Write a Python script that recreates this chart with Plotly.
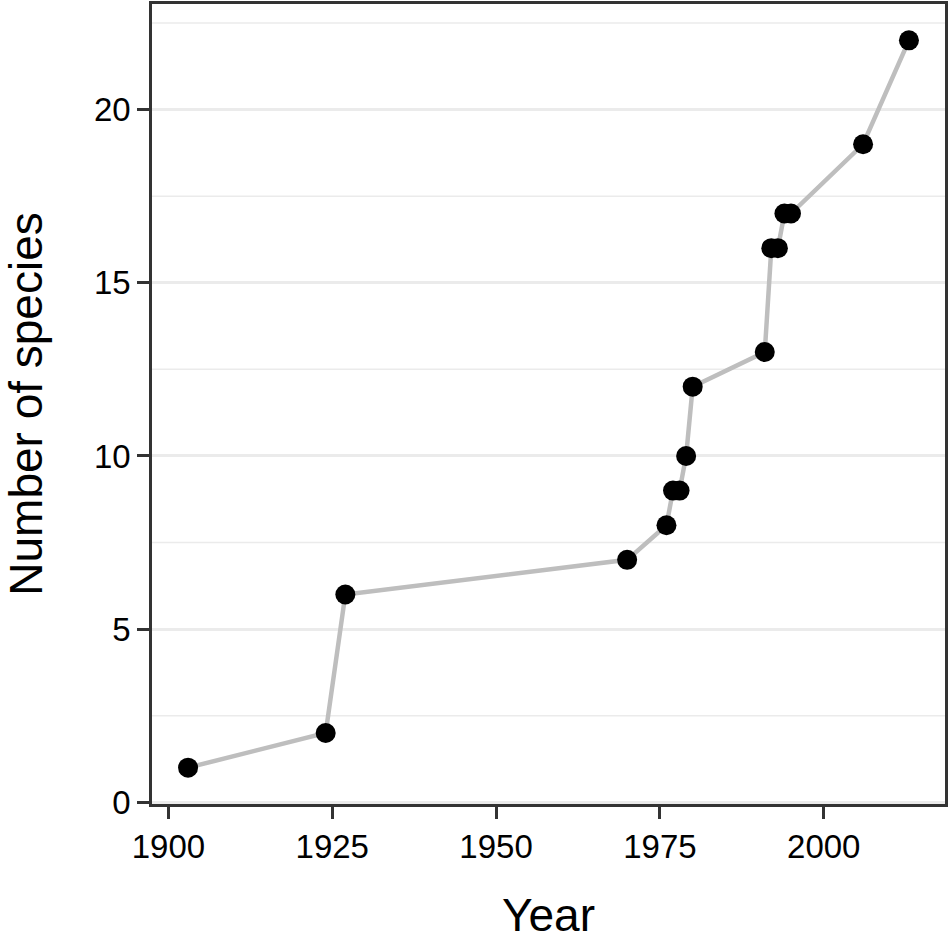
import plotly.graph_objects as go

years = [1903, 1924, 1927, 1970, 1976, 1977, 1978, 1979, 1980, 1991, 1992, 1993, 1994, 1995, 2006, 2013]
species = [1, 2, 6, 7, 8, 9, 9, 10, 12, 13, 16, 16, 17, 17, 19, 22]
x_ticks = [1900, 1925, 1950, 1975, 2000]
y_ticks = [0, 5, 10, 15, 20]
y_minor = [2.5, 7.5, 12.5, 17.5, 22.5]

FONT = "Liberation Sans, Arial, Helvetica, sans-serif"

fig = go.Figure()
fig.add_trace(go.Scatter(
    x=years, y=species, mode="lines+markers",
    line=dict(color="#BEBEBE", width=4.5),
    marker=dict(color="black", size=20),
    showlegend=False,
))

for v in y_minor:
    fig.add_hline(y=v, line=dict(color="#EBEBEB", width=1.5), layer="below")

fig.update_layout(
    width=950, height=941,
    margin=dict(l=152, r=5, t=4, b=137),
    plot_bgcolor="white", paper_bgcolor="white",
    font=dict(family=FONT, color="black"),
    xaxis=dict(
        range=[1897.5, 2018.5], tickvals=x_ticks, showgrid=False, zeroline=False,
        showline=True, linecolor="#333333", linewidth=2.5, mirror=True,
        ticks="outside", ticklen=12, tickwidth=3, tickcolor="#333333",
        tickfont=dict(size=33, color="black"), automargin=False,
        title=dict(text="Year", font=dict(size=46, color="black"), standoff=45),
    ),
    yaxis=dict(
        range=[-0.05, 23.05], tickvals=y_ticks, showgrid=True, gridcolor="#EBEBEB", gridwidth=2.5,
        zeroline=False, automargin=False,
        showline=True, linecolor="#333333", linewidth=2.5, mirror=True,
        ticks="outside", ticklen=12, tickwidth=3, tickcolor="#333333",
        tickfont=dict(size=33, color="black"),
        title=dict(text="Number of species", font=dict(size=46, color="black"), standoff=46),
    ),
)

fig.write_html(
    "out.html",
    config={"displayModeBar": False},
    post_script="document.body.style.margin='0';document.body.style.overflow='hidden';",
)
